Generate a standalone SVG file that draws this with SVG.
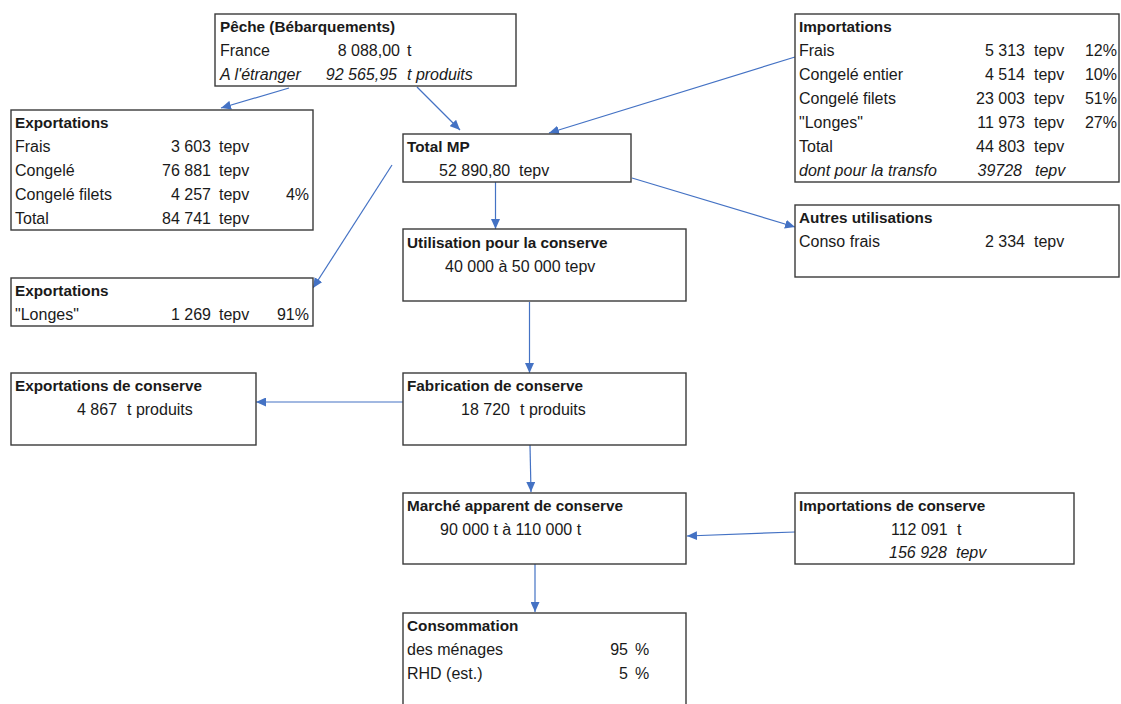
<svg xmlns="http://www.w3.org/2000/svg" width="1121" height="704" viewBox="0 0 1121 704">
  <style>
    text { font-family: "Liberation Sans", Arial, sans-serif; font-size: 16px; fill: #1a1a1a; }
    .b { font-weight: bold; font-size: 15.3px; }
    .i { font-style: italic; }
    .r { text-anchor: end; }
    .box { fill: #ffffff; stroke: #3a3a3a; stroke-width: 1.4; }
    .link { fill: none; stroke: #4472C4; stroke-width: 1.2; marker-end: url(#arrow); }
  </style>
  <defs>
    <marker id="arrow" markerUnits="userSpaceOnUse" markerWidth="11" markerHeight="9" refX="10" refY="4.5" orient="auto">
      <path d="M0,0 L10,4.5 L0,9 z" fill="#4472C4"/>
    </marker>
  </defs>
  <rect width="1121" height="704" fill="#ffffff"/>

  <!-- connectors -->
  <g id="connectors">
    <line class="link" x1="289" y1="88" x2="221" y2="108"/>
    <line class="link" x1="417" y1="87" x2="460" y2="130"/>
    <line class="link" x1="795" y1="57" x2="549" y2="133"/>
    <line class="link" x1="632" y1="178" x2="795" y2="227"/>
    <line class="link" x1="392" y1="165" x2="313" y2="288"/>
    <line class="link" x1="495.5" y1="182" x2="495.5" y2="229"/>
    <line class="link" x1="529.5" y1="302" x2="529.5" y2="373"/>
    <line class="link" x1="403" y1="402" x2="256" y2="402"/>
    <line class="link" x1="530" y1="445" x2="531" y2="492"/>
    <line class="link" x1="795" y1="532" x2="687" y2="536"/>
    <line class="link" x1="535" y1="564" x2="535" y2="612"/>
  </g>

  <!-- Pêche -->
  <g id="peche">
    <rect class="box" x="215" y="14" width="301" height="72"/>
    <text class="b" x="220" y="32">Pêche (Bébarquements)</text>
    <text x="220" y="56">France</text>
    <text class="r" x="400" y="56">8 088,00</text>
    <text x="407" y="56">t</text>
    <text class="i" x="220" y="80">A l'étranger</text>
    <text class="i r" x="397" y="80">92 565,95</text>
    <text class="i" x="407" y="80">t produits</text>
  </g>

  <!-- Exportations (frais / congelé) -->
  <g id="exportations">
    <rect class="box" x="11" y="110" width="302" height="120"/>
    <text class="b" x="15" y="128">Exportations</text>
    <text x="15" y="152">Frais</text>
    <text class="r" x="211" y="152">3 603</text>
    <text x="219" y="152">tepv</text>
    <text x="15" y="176">Congelé</text>
    <text class="r" x="211" y="176">76 881</text>
    <text x="219" y="176">tepv</text>
    <text x="15" y="200">Congelé filets</text>
    <text class="r" x="211" y="200">4 257</text>
    <text x="219" y="200">tepv</text>
    <text class="r" x="309" y="200">4%</text>
    <text x="15" y="224">Total</text>
    <text class="r" x="211" y="224">84 741</text>
    <text x="219" y="224">tepv</text>
  </g>

  <!-- Total MP -->
  <g id="total-mp">
    <rect class="box" x="403" y="134" width="228" height="48"/>
    <text class="b" x="407" y="152">Total MP</text>
    <text x="439" y="176">52 890,80</text>
    <text x="519" y="176">tepv</text>
  </g>

  <!-- Importations -->
  <g id="importations">
    <rect class="box" x="795" y="14" width="324" height="168"/>
    <text class="b" x="799" y="32">Importations</text>
    <text x="799" y="56">Frais</text>
    <text class="r" x="1025" y="56">5 313</text>
    <text x="1034" y="56">tepv</text>
    <text class="r" x="1117" y="56">12%</text>
    <text x="799" y="80">Congelé entier</text>
    <text class="r" x="1025" y="80">4 514</text>
    <text x="1034" y="80">tepv</text>
    <text class="r" x="1117" y="80">10%</text>
    <text x="799" y="104">Congelé filets</text>
    <text class="r" x="1025" y="104">23 003</text>
    <text x="1034" y="104">tepv</text>
    <text class="r" x="1117" y="104">51%</text>
    <text x="799" y="128">"Longes"</text>
    <text class="r" x="1025" y="128">11 973</text>
    <text x="1034" y="128">tepv</text>
    <text class="r" x="1117" y="128">27%</text>
    <text x="799" y="152">Total</text>
    <text class="r" x="1025" y="152">44 803</text>
    <text x="1034" y="152">tepv</text>
    <text class="i" x="799" y="176">dont pour la transfo</text>
    <text class="i r" x="1022" y="176">39728</text>
    <text class="i" x="1035" y="176">tepv</text>
  </g>

  <!-- Autres utilisations -->
  <g id="autres-utilisations">
    <rect class="box" x="795" y="205" width="324" height="72"/>
    <text class="b" x="799" y="223">Autres utilisations</text>
    <text x="799" y="247">Conso frais</text>
    <text class="r" x="1025" y="247">2 334</text>
    <text x="1034" y="247">tepv</text>
  </g>

  <!-- Utilisation pour la conserve -->
  <g id="utilisation-conserve">
    <rect class="box" x="403" y="229" width="283" height="72"/>
    <text class="b" x="407" y="248">Utilisation pour la conserve</text>
    <text x="445" y="272">40 000 à 50 000 tepv</text>
  </g>

  <!-- Exportations (longes) -->
  <g id="exportations-longes">
    <rect class="box" x="11" y="278" width="302" height="48"/>
    <text class="b" x="15" y="296">Exportations</text>
    <text x="15" y="320">"Longes"</text>
    <text class="r" x="211" y="320">1 269</text>
    <text x="219" y="320">tepv</text>
    <text class="r" x="309" y="320">91%</text>
  </g>

  <!-- Exportations de conserve -->
  <g id="exportations-conserve">
    <rect class="box" x="11" y="373" width="245" height="72"/>
    <text class="b" x="15" y="391">Exportations de conserve</text>
    <text x="77" y="415">4 867</text>
    <text x="127" y="415">t produits</text>
  </g>

  <!-- Fabrication de conserve -->
  <g id="fabrication-conserve">
    <rect class="box" x="403" y="373" width="283" height="72"/>
    <text class="b" x="407" y="391">Fabrication de conserve</text>
    <text x="461" y="415">18 720</text>
    <text x="520" y="415">t produits</text>
  </g>

  <!-- Marché apparent de conserve -->
  <g id="marche-apparent">
    <rect class="box" x="403" y="493" width="283" height="71"/>
    <text class="b" x="407" y="511">Marché apparent de conserve</text>
    <text x="440" y="535">90 000 t à 110 000 t</text>
  </g>

  <!-- Importations de conserve -->
  <g id="importations-conserve">
    <rect class="box" x="795" y="493" width="279" height="71"/>
    <text class="b" x="799" y="511">Importations de conserve</text>
    <text x="891" y="535">112 091</text>
    <text x="957" y="535">t</text>
    <text class="i" x="889" y="558">156 928</text>
    <text class="i" x="956" y="558">tepv</text>
  </g>

  <!-- Consommation -->
  <g id="consommation">
    <rect class="box" x="403" y="613" width="283" height="110"/>
    <text class="b" x="407" y="631">Consommation</text>
    <text x="407" y="655">des ménages</text>
    <text class="r" x="628" y="655">95</text>
    <text x="635" y="655">%</text>
    <text x="407" y="679">RHD (est.)</text>
    <text class="r" x="628" y="679">5</text>
    <text x="635" y="679">%</text>
  </g>
</svg>
